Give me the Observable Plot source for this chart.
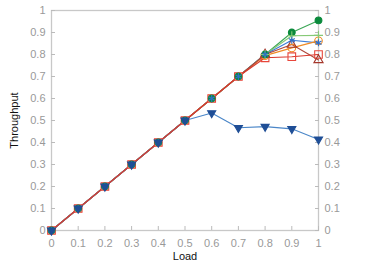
<!DOCTYPE html>
<html><head><meta charset="utf-8">
<script src="https://cdn.jsdelivr.net/npm/d3@7"></script>
<script src="https://cdn.jsdelivr.net/npm/@observablehq/plot@0.6"></script>
<style>
body{margin:0;background:#fff;font-family:"Liberation Sans",Arial,sans-serif}
g[aria-label="x-axis label"], g[aria-label="y-axis label"]{fill:#111}
</style>
</head><body><div id="chart"></div>
<script>
const load = [0,0.1,0.2,0.3,0.4,0.5,0.6,0.7,0.8,0.9,1];
const ticks = [0,0.1,0.2,0.3,0.4,0.5,0.6,0.7,0.8,0.9,1];
const sGreen   = [0,0.1,0.2,0.3,0.4,0.5,0.6,0.7,0.80,0.90,0.955];
const sLtGreen = [0,0.1,0.2,0.3,0.4,0.5,0.6,0.7,0.80,0.885,0.887];
const sAster   = [0,0.1,0.2,0.3,0.4,0.5,0.6,0.7,0.80,0.865,0.853];
const sOrange  = [0,0.1,0.2,0.3,0.4,0.5,0.6,0.7,0.795,0.83,0.862];
const sDkRed   = [0,0.1,0.2,0.3,0.4,0.5,0.6,0.7,0.80,0.845,0.775];
const sBlue    = [0,0.1,0.2,0.3,0.4,0.5,0.534,0.467,0.472,0.462,0.414];
const sRed     = [0,0.1,0.2,0.3,0.4,0.5,0.6,0.7,0.785,0.79,0.80];

// line drawing order
const lineOrder = [
  {v:sGreen, c:"#3aa655"}, {v:sLtGreen, c:"#86c976"}, {v:sAster, c:"#3b7dd8"},
  {v:sOrange, c:"#f08a24"}, {v:sDkRed, c:"#b0473a"}, {v:sBlue, c:"#4a86c8"}, {v:sRed, c:"#d9392e"}
];
// marker drawing order
const dotOrder = [
  {v:sRed,     mark:"#e8473c", symbol:"square",   fill:"#f4a79c", r:4.3, rot:0,   all:true},
  {v:sOrange,  mark:"#f08a24", symbol:"circle",   fill:"none",    r:3.8, rot:0,   all:false},
  {v:sDkRed,   mark:"#a5372b", symbol:"triangle", fill:"none",    r:3.4, rot:0,   all:false},
  {v:sGreen,   mark:"#0b8a3c", symbol:"circle",   fill:"#0b8a3c", r:3.4, rot:0,   all:true},
  {v:sLtGreen, mark:"#86c976", symbol:"plus",     fill:"none",    r:3,   rot:0,   all:false},
  {v:sAster,   mark:"#2f6fc8", symbol:"asterisk", fill:"none",    r:3.3, rot:0,   all:true},
  {v:sBlue,    mark:"#1f4e96", symbol:"triangle", fill:"#1f4e96", r:3.0, rot:180, all:true}
];
const rows = v => load.map((x,i)=>({x, y:v[i]}));

const marks = [
  Plot.frame({stroke:"#c8c8c8", strokeWidth:1.3}),
  Plot.axisY({anchor:"left", ticks, tickSize:-4, tickPadding:10, stroke:"#bbb", color:"#999", fontSize:11, label:"Throughput", labelAnchor:"center", labelArrow:"none", labelOffset:41, tickFormat:d=>String(d)}),
  Plot.axisY({anchor:"right", ticks, tickSize:-4, tickPadding:10, stroke:"#bbb", color:"#999", fontSize:11, label:null, tickFormat:d=>String(d)}),
  Plot.axisX({ticks, tickSize:-4, tickPadding:13, stroke:"#bbb", color:"#999", fontSize:11, label:"Load", labelAnchor:"center", labelArrow:"none", labelOffset:29, tickFormat:d=>String(d)})
];
for (const s of lineOrder) {
  marks.push(Plot.line(rows(s.v), {x:"x", y:"y", stroke:s.c, strokeWidth:1.1}));
}
for (const s of dotOrder) {
  const data = s.all ? rows(s.v) : rows(s.v).filter(d => d.x >= 0.75);
  const isSquare = s.symbol === "square";
  marks.push(Plot.dot(data, {x:"x", y:"y", symbol:()=>s.symbol, r:s.r, rotate:s.rot,
    stroke:s.mark,
    fill: isSquare ? (d => d.x <= 0.75 ? s.fill : "none") : s.fill,
    strokeWidth:1.1}));
}

const chart = Plot.plot({
  width:374, height:262,
  marginLeft:51, marginRight:56, marginTop:10, marginBottom:32,
  x:{domain:[0,1]}, y:{domain:[0,1]},
  color:{type:"identity"},
  style:{fontFamily:"Liberation Sans, Arial, sans-serif", fontSize:"11px", color:"#000"},
  marks
});
document.getElementById("chart").appendChild(chart);
</script></body></html>
